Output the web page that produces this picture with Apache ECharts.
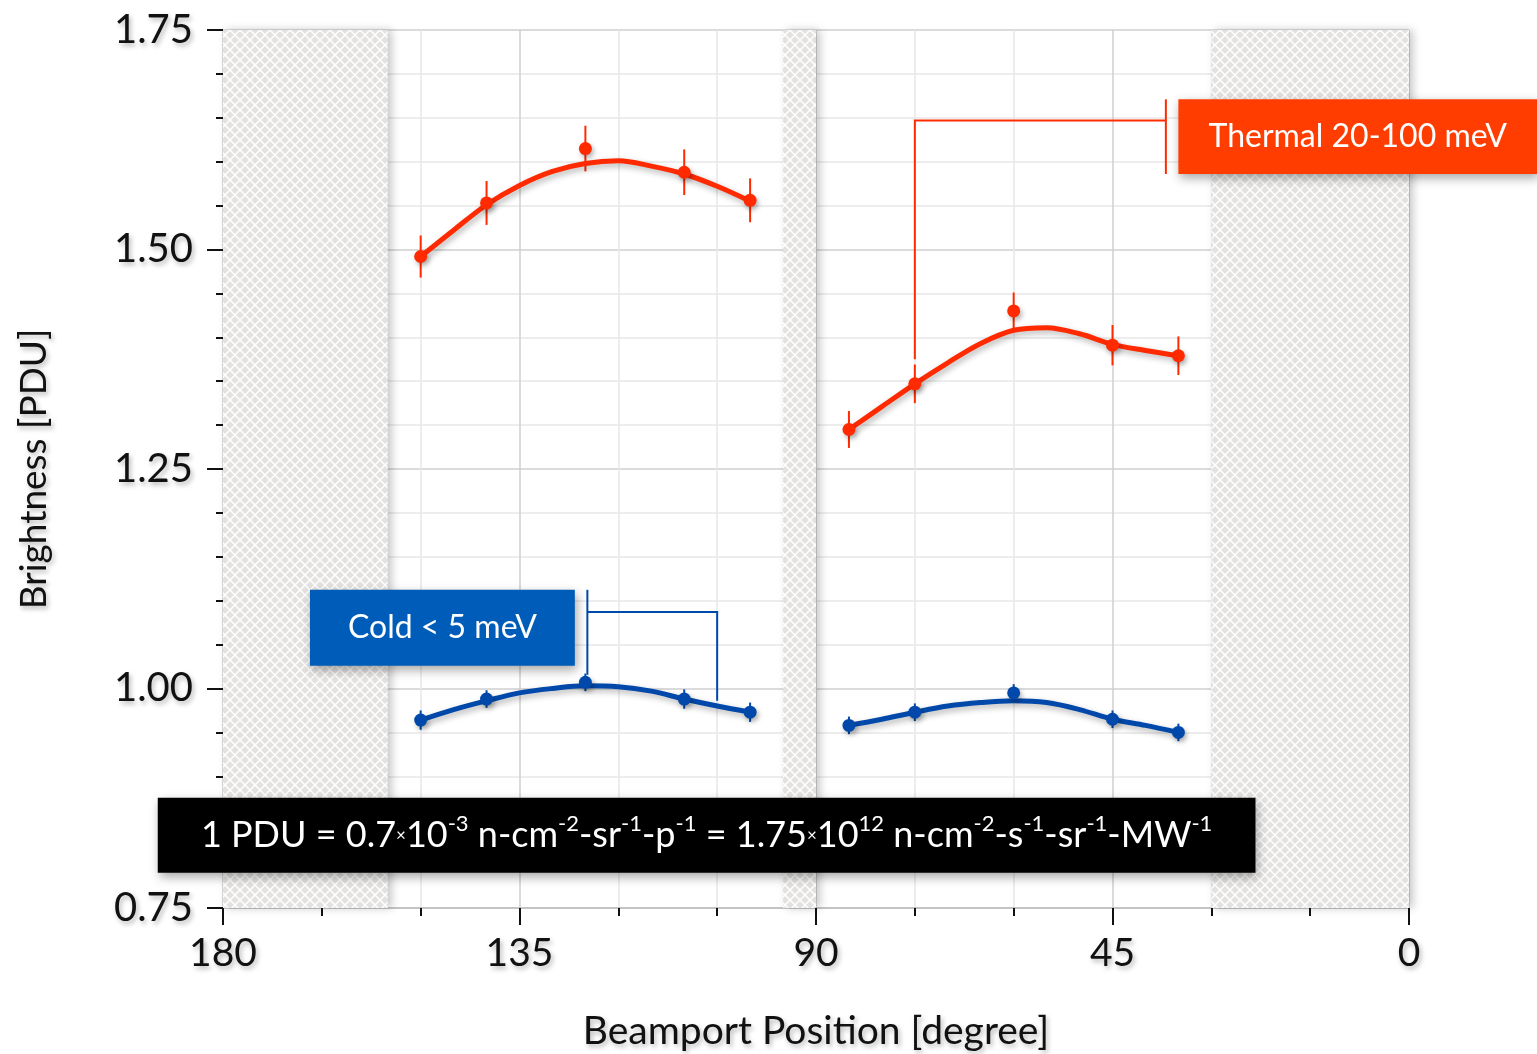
<!DOCTYPE html>
<html>
<head>
<meta charset="utf-8">
<title>Beamport brightness</title>
<script src="https://cdn.jsdelivr.net/npm/echarts@6/dist/echarts.min.js"></script>
<style>
  html, body { margin: 0; padding: 0; background: #ffffff; }
  #chart { width: 1537px; height: 1054px; }
</style>
</head>
<body>
<div id="chart"></div>
<script>
// Beamport angles [degree] for the two banks of ports
const anglesBank1 = [150, 140, 125, 110, 100];
const anglesBank2 = [85, 75, 60, 45, 35];

// Thermal (20-100 meV) brightness [PDU] and uncertainty
const thermalBank1 = [1.492, 1.553, 1.615, 1.588, 1.556];
const thermalErrBank1 = [0.024, 0.025, 0.026, 0.026, 0.025];
const thermalBank2 = [1.295, 1.347, 1.430, 1.391, 1.379];
const thermalErrBank2 = [0.021, 0.022, 0.021, 0.023, 0.022];

// Cold (< 5 meV) brightness [PDU] and uncertainty
const coldBank1 = [0.964, 0.988, 1.007, 0.988, 0.973];
const coldErrBank1 = [0.011, 0.010, 0.010, 0.011, 0.011];
const coldBank2 = [0.958, 0.973, 0.995, 0.965, 0.950];
const coldErrBank2 = [0.010, 0.010, 0.010, 0.010, 0.010];

// Fitted trend curves
const fitAnglesBank1 = [150, 145, 140, 135, 130, 125, 120, 115, 110, 105, 100];
const fitAnglesBank2 = [85, 80, 75, 70, 65, 60, 55, 50, 45, 40, 35];
const thermalFitBank1 = [1.492, 1.522, 1.551, 1.573, 1.589, 1.598, 1.601, 1.595, 1.586, 1.572, 1.555];
const thermalFitBank2 = [1.295, 1.321, 1.347, 1.371, 1.393, 1.408, 1.411, 1.404, 1.392, 1.385, 1.379];
const coldFitBank1 = [0.964, 0.976, 0.986, 0.995, 1.000, 1.003, 1.002, 0.997, 0.988, 0.980, 0.973];
const coldFitBank2 = [0.958, 0.965, 0.973, 0.980, 0.984, 0.986, 0.984, 0.976, 0.965, 0.958, 0.950];

// Angular ranges with no beamports [from, to] in degrees
const blockedRanges = [[180, 155], [95, 90], [30, 0]];

const FONT = 'Lato, "Noto Sans", sans-serif';
const RED = '#ff2a00';
const RED_BOX = '#ff3d00';
const BLUE = '#0049aa';
const BLUE_BOX = '#005cb9';

const labelShadow = {
  textShadowColor: 'rgba(0,0,0,0.28)',
  textShadowBlur: 5,
  textShadowOffsetX: 2,
  textShadowOffsetY: 3
};

function hatchPattern() {
  const s = 10;
  const c = document.createElement('canvas');
  c.width = s; c.height = s;
  const g = c.getContext('2d');
  g.fillStyle = '#e3e2e0';
  g.fillRect(0, 0, s, s);
  g.strokeStyle = '#ffffff';
  g.lineWidth = 1.5;
  g.beginPath();
  g.moveTo(-1, -1); g.lineTo(s + 1, s + 1);
  g.moveTo(s + 1, -1); g.lineTo(-1, s + 1);
  g.stroke();
  return c;
}

const zip = (xs, ys) => xs.map((x, i) => [x, ys[i]]);
const zip3 = (xs, ys, es) => xs.map((x, i) => [x, ys[i], es[i]]);

function errorBars(data, color) {
  return {
    type: 'custom',
    z: 3,
    silent: true,
    data: data,
    encode: { x: 0, y: 1 },
    renderItem: function (params, api) {
      const x = api.value(0), y = api.value(1), e = api.value(2);
      const a = api.coord([x, y + e]);
      const b = api.coord([x, y - e]);
      return {
        type: 'line',
        shape: { x1: a[0], y1: a[1], x2: b[0], y2: b[1] },
        style: { stroke: color, lineWidth: 2 }
      };
    }
  };
}

function fitLine(data, color) {
  return {
    type: 'line',
    z: 4,
    silent: true,
    data: data,
    smooth: 0.35,
    showSymbol: false,
    lineStyle: {
      color: color, width: 5,
      shadowColor: 'rgba(0,0,0,0.3)', shadowBlur: 6, shadowOffsetX: 2, shadowOffsetY: 3
    }
  };
}

function points(data, color) {
  return {
    type: 'scatter',
    z: 5,
    silent: true,
    data: data,
    symbolSize: 13,
    itemStyle: {
      color: color, opacity: 1,
      shadowColor: 'rgba(0,0,0,0.3)', shadowBlur: 5, shadowOffsetX: 2, shadowOffsetY: 3
    }
  };
}

const option = {
  animation: false,
  backgroundColor: '#ffffff',
  grid: { left: 223, right: 128, top: 30, bottom: 146, containLabel: false, outerBoundsMode: 'none' },
  xAxis: {
    type: 'value',
    inverse: true,
    min: 0, max: 180, interval: 45,
    name: 'Beamport Position [degree]',
    nameLocation: 'middle',
    nameGap: 104,
    nameTextStyle: Object.assign({ fontFamily: FONT, fontSize: 39, color: '#111' }, labelShadow),
    axisLine: { show: true, onZero: false, lineStyle: { color: '#c4c4c4', width: 2 } },
    axisTick: { show: true, length: 17, lineStyle: { color: '#111', width: 2 } },
    minorTick: { show: true, splitNumber: 3, length: 8, lineStyle: { color: '#111', width: 2 } },
    axisLabel: Object.assign({ fontFamily: FONT, fontSize: 39, color: '#111', margin: 26 }, labelShadow),
    splitLine: { show: true, lineStyle: { color: '#cfcfcf', width: 1.5 } },
    minorSplitLine: { show: true, lineStyle: { color: '#e8e8e8', width: 1.5 } }
  },
  yAxis: {
    type: 'value',
    min: 0.75, max: 1.75, interval: 0.25,
    name: 'Brightness [PDU]',
    nameLocation: 'middle',
    nameGap: 170,
    nameTextStyle: Object.assign({ fontFamily: FONT, fontSize: 37, color: '#111' }, labelShadow),
    axisLine: { show: true, onZero: false, lineStyle: { color: 'rgba(0,0,0,0)', width: 1 } },
    axisTick: { show: true, length: 16, lineStyle: { color: '#111', width: 2 } },
    minorTick: { show: true, splitNumber: 5, length: 7, lineStyle: { color: '#111', width: 2 } },
    axisLabel: Object.assign({
      fontFamily: FONT, fontSize: 40, color: '#111', margin: 30,
      padding: [0, 0, 10, 0],
      formatter: v => v.toFixed(2)
    }, labelShadow),
    splitLine: { show: true, lineStyle: { color: '#cfcfcf', width: 1.5 } },
    minorSplitLine: { show: true, lineStyle: { color: '#e8e8e8', width: 1.5 } }
  },
  series: [
    {
      type: 'line',
      z: 1,
      silent: true,
      data: [],
      markArea: {
        silent: true,
        itemStyle: {
          color: { image: hatchPattern(), repeat: 'repeat' },
          opacity: 1,
          shadowColor: 'rgba(0,0,0,0.22)', shadowBlur: 8, shadowOffsetX: 4, shadowOffsetY: 0
        },
        data: blockedRanges.map(r => [{ xAxis: r[0], yAxis: 0.75 }, { xAxis: r[1], yAxis: 1.75 }])
      }
    },
    errorBars(zip3(anglesBank1, thermalBank1, thermalErrBank1), RED),
    errorBars(zip3(anglesBank2, thermalBank2, thermalErrBank2), RED),
    errorBars(zip3(anglesBank1, coldBank1, coldErrBank1), BLUE),
    errorBars(zip3(anglesBank2, coldBank2, coldErrBank2), BLUE),
    fitLine(zip(fitAnglesBank1, thermalFitBank1), RED),
    fitLine(zip(fitAnglesBank2, thermalFitBank2), RED),
    fitLine(zip(fitAnglesBank1, coldFitBank1), BLUE),
    fitLine(zip(fitAnglesBank2, coldFitBank2), BLUE),
    points(zip(anglesBank1, thermalBank1), RED),
    points(zip(anglesBank2, thermalBank2), RED),
    points(zip(anglesBank1, coldBank1), BLUE),
    points(zip(anglesBank2, coldBank2), BLUE)
  ]
};

const chart = echarts.init(document.getElementById('chart'), null, { renderer: 'canvas' });
chart.setOption(option);

// Annotations placed in data coordinates
const px = (x, y) => chart.convertToPixel({ gridIndex: 0 }, [x, y]);
const boxShadow = { shadowColor: 'rgba(0,0,0,0.35)', shadowBlur: 10, shadowOffsetX: 2, shadowOffsetY: 4 };

// Filled label box from (x0, y0) to (x1, y1); x1 === null runs to the right edge
function box(x0, y0, x1, y1, fill, textContent, textStyle) {
  const a = px(x0, y0);
  const b = px(x1 === null ? x0 : x1, y1);
  const right = x1 === null ? chart.getWidth() : b[0];
  const bottom = b[1];
  return [
    {
      type: 'rect', z: 100,
      shape: { x: a[0], y: a[1], width: right - a[0], height: bottom - a[1] },
      style: Object.assign({ fill: fill }, boxShadow)
    },
    {
      type: 'text', z: 101,
      x: (a[0] + right) / 2, y: (a[1] + bottom) / 2,
      style: Object.assign({
        text: textContent, align: 'center', verticalAlign: 'middle',
        fill: '#ffffff', fontFamily: FONT, fontSize: 32
      }, textStyle || {})
    }
  ];
}

function polyline(pts, color) {
  return {
    type: 'polyline', z: 99,
    shape: { points: pts.map(p => px(p[0], p[1])) },
    style: { stroke: color, lineWidth: 2, fill: null }
  };
}

const mainStyle = { fill: '#fff', fontFamily: FONT, fontSize: 36, lineHeight: 44 };
const supStyle = { fill: '#fff', fontFamily: FONT, fontSize: 22, lineHeight: 40, verticalAlign: 'top' };
const timesStyle = { fill: '#fff', fontFamily: FONT, fontSize: 17, lineHeight: 44 };
const pduText =
  '{n|1 PDU = 0.7}{x|×}{n|10}{s|-3}{n| n-cm}{s|-2}{n|-sr}{s|-1}{n|-p}{s|-1}' +
  '{n| = 1.75}{x|×}{n|10}{s|12}{n| n-cm}{s|-2}{n|-s}{s|-1}{n|-sr}{s|-1}{n|-MW}{s|-1}';

const graphics = [
  polyline([[75, 1.375], [75, 1.647], [36.9, 1.647]], RED),
  polyline([[36.9, 1.671], [36.9, 1.586]], RED),
  ...box(35, 1.671, null, 1.586, RED_BOX, 'Thermal 20-100 meV'),
  polyline([[124.7, 1.1124], [124.7, 1.0156]], BLUE),
  polyline([[124.7, 1.087], [105, 1.087], [105, 0.986]], BLUE),
  ...box(166.8, 1.1124, 126.6, 1.026, BLUE_BOX, 'Cold < 5 meV'),
  ...box(189.9, 0.8756, 23.3, 0.7902, '#000000', pduText, {
    fontSize: 36, rich: { n: mainStyle, s: supStyle, x: timesStyle }
  })
];

chart.setOption({ graphic: graphics });
</script>
</body>
</html>
